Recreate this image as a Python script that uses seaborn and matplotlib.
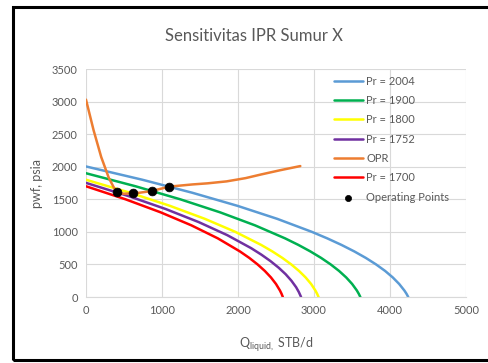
import matplotlib
matplotlib.use("Agg")
import matplotlib.pyplot as plt
import seaborn as sns
import pandas as pd
from matplotlib.patches import Rectangle

# IPR curves (q in STB/d, pwf in psia)
pwf_2004 = [2004, 1800, 1600, 1400, 1200, 1000, 900, 800, 700, 600, 500, 400, 300, 200, 100, 50, 0]
q_2004 = [0, 742, 1400, 1992, 2516, 2972, 3175, 3361, 3530, 3682, 3817, 3936, 4037, 4121, 4189, 4217, 4240]

pwf_1900 = [1900, 1700, 1500, 1300, 1100, 900, 800, 700, 600, 500, 400, 300, 200, 100, 50, 0]
q_1900 = [0, 652, 1240, 1764, 2224, 2620, 2794, 2952, 3094, 3220, 3330, 3424, 3502, 3564, 3589, 3610]

pwf_1800 = [1800, 1600, 1400, 1200, 1000, 800, 700, 600, 500, 400, 300, 200, 100, 50, 0]
q_1800 = [0, 582, 1103, 1564, 1965, 2304, 2452, 2584, 2701, 2803, 2890, 2962, 3018, 3041, 3060]

pwf_1752 = [1752, 1550, 1350, 1150, 950, 750, 650, 550, 450, 350, 250, 150, 75, 0]
q_1752 = [0, 557, 1050, 1483, 1858, 2173, 2308, 2429, 2535, 2627, 2703, 2765, 2801, 2830]

pwf_1700 = [1700, 1500, 1300, 1100, 900, 700, 600, 500, 400, 300, 200, 100, 50, 0]
q_1700 = [0, 520, 982, 1387, 1735, 2025, 2149, 2258, 2353, 2434, 2500, 2552, 2573, 2590]

# outflow performance (OPR)
q_opr = [0, 100, 200, 300, 380, 420, 500, 614, 700, 864, 1100, 1400, 1600, 1850, 2100, 2300, 2550, 2820]
pwf_opr = [3030, 2560, 2150, 1830, 1650, 1605, 1585, 1592, 1600, 1627, 1695, 1728, 1745, 1775, 1825, 1880, 1945, 2010]

# operating points
q_op = [404, 614, 864, 1096]
pwf_op = [1607, 1592, 1627, 1693]

sns.set_style("white")
plt.rcParams["font.family"] = ["Lato", "DejaVu Sans"]
plt.rcParams["mathtext.fontset"] = "custom"
plt.rcParams["mathtext.rm"] = "Lato"

fig = plt.figure(figsize=(4.88, 3.63), dpi=100)
ax = fig.add_axes([0.1762, 0.1818, 0.7787, 0.6281])

series = [
    ("Pr = 2004", q_2004, pwf_2004, "#5B9BD5"),
    ("Pr = 1900", q_1900, pwf_1900, "#00B050"),
    ("Pr = 1800", q_1800, pwf_1800, "#FFFF00"),
    ("Pr = 1752", q_1752, pwf_1752, "#7030A0"),
    ("OPR", q_opr, pwf_opr, "#ED7D31"),
    ("Pr = 1700", q_1700, pwf_1700, "#FF0000"),
]
for label, q, p, c in series:
    df = pd.DataFrame({"q": q, "pwf": p})
    sns.lineplot(data=df, x="q", y="pwf", sort=False, color=c, lw=1.8,
                 label=label, ax=ax, zorder=2)

ops = pd.DataFrame({"q": q_op, "pwf": pwf_op})
sns.scatterplot(data=ops, x="q", y="pwf", color="black", s=40, edgecolor="black",
                label="Operating Points", ax=ax, zorder=3)

ax.set_xlim(0, 5000)
ax.set_ylim(0, 3500)
ax.set_xticks(range(0, 5001, 1000))
ax.set_yticks(range(0, 3501, 500))
ax.grid(True, color="#D9D9D9", lw=0.8)
ax.set_axisbelow(True)
for s in ["top", "right", "left"]:
    ax.spines[s].set_visible(False)
ax.spines["bottom"].set_color("#D9D9D9")
ax.tick_params(axis="both", length=0, labelsize=8, labelcolor="#595959", pad=6)

ax.set_xlabel(r"Q$_{\mathregular{liquid,}}$ STB/d", fontsize=9, color="#595959", labelpad=14)
ax.set_ylabel("pwf, psia", fontsize=9, color="#595959", labelpad=6)
fig.text(0.52, 0.9, "Sensitivitas IPR Sumur X", ha="center", va="center",
         fontsize=12, color="#595959")

leg = ax.legend(loc="upper left", bbox_to_anchor=(0.635, 1.0), frameon=False,
                fontsize=8, handlelength=2.6, handletextpad=0.3, labelspacing=0.75,
                borderpad=0.1, markerscale=0.7)
for t in leg.get_texts():
    t.set_color("#595959")

fig.patches.append(Rectangle((13 / 488, 3 / 363), 1.0, 353 / 363, transform=fig.transFigure,
                             fill=False, edgecolor="black", lw=2.2))

fig.savefig("out.png", dpi=100)
